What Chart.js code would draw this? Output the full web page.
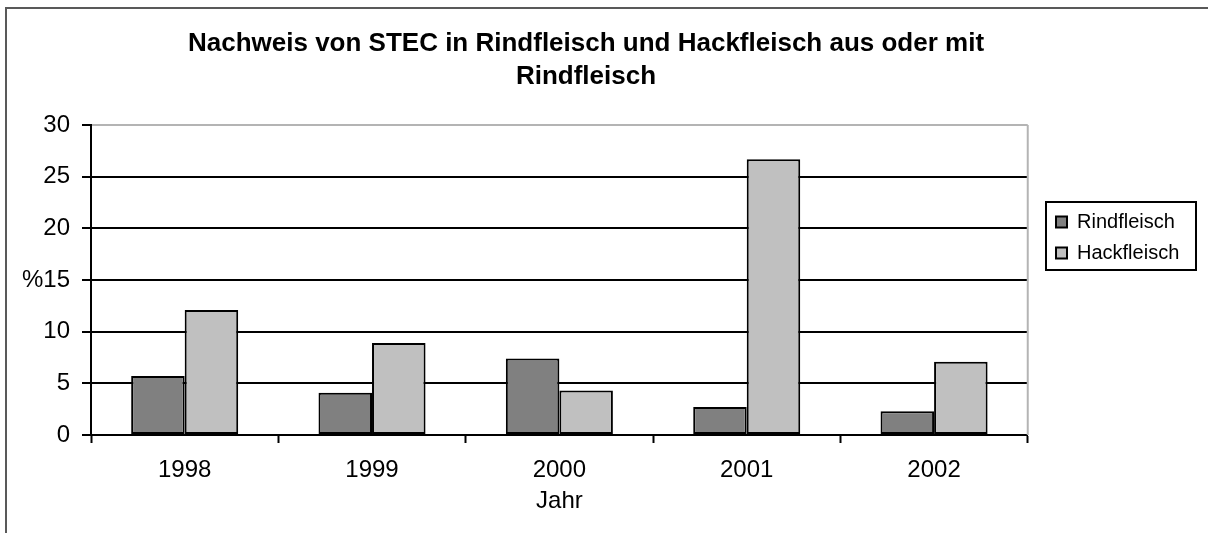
<!DOCTYPE html>
<html lang="de">
<head>
<meta charset="utf-8">
<title>Nachweis von STEC</title>
<script src="https://cdn.jsdelivr.net/npm/chart.js@4/dist/chart.umd.min.js"></script>
<style>
    html, body { margin: 0; padding: 0; background: #fff; }
    #quadro { position: relative; width: 1208px; height: 533px; overflow: hidden; }
    #moldura {
        position: absolute; left: 5px; top: 7px; right: 0; bottom: 0;
        border-left: 2px solid #595959; border-top: 2px solid #595959;
        pointer-events: none;
    }
</style>
</head>
<body>
<div id="quadro">
    <canvas id="grafico" width="1208" height="533"></canvas>
    <div id="moldura"></div>
</div>
<script>
// Anteil positiver Proben in %
const jahre       = ['1998', '1999', '2000', '2001', '2002']
const rindfleisch = [5.7, 4.1, 7.4, 2.7, 2.3]
const hackfleisch = [12.1, 8.9, 4.3, 26.7, 7.1]

const titel     = ['Nachweis von STEC in Rindfleisch und Hackfleisch aus oder mit', 'Rindfleisch']
const achseX    = 'Jahr'
const achseY    = '%'

const schrift   = "'Liberation Sans', Arial, sans-serif"
const TEXT      = 24
const Y_TICK    = 9
const Y_PAD     = 12

// legend sits in its own framed box beside the plot
const legendeBox = { left: 1045, top: 201, right: 1197, bottom: 300 }
const rahmenHoehe = 70

const rahmen = {
    id: 'rahmen',
    afterLayout(chart) {
        const lg = chart.legend
        lg.left = legendeBox.left
        lg.right = legendeBox.right
        lg.top = legendeBox.top
        lg.bottom = legendeBox.bottom
        lg.width = lg.right - lg.left
        lg.height = lg.bottom - lg.top
    },
    beforeDatasetsDraw(chart) {
        // grey border on the right side of the plot area
        const { ctx, chartArea } = chart
        ctx.save()
        ctx.strokeStyle = '#b4b4b4'
        ctx.lineWidth = 2
        ctx.beginPath()
        ctx.moveTo(chartArea.right, chartArea.top)
        ctx.lineTo(chartArea.right, chartArea.bottom)
        ctx.stroke()
        ctx.restore()
    },
    afterDraw(chart) {
        const { ctx } = chart
        const lg = chart.legend
        ctx.save()
        ctx.strokeStyle = '#000'
        ctx.lineWidth = 2
        ctx.strokeRect(lg.left + 1, lg.top + 1, lg.width - 2, rahmenHoehe - 2)

        // "%" written horizontally in front of the middle tick label
        const y = chart.scales.y
        ctx.font = TEXT + 'px ' + schrift
        ctx.fillStyle = '#000'
        ctx.textAlign = 'right'
        ctx.textBaseline = 'middle'
        const mitte = (y.min + y.max) / 2
        const x = y.right - Y_TICK - Y_PAD - ctx.measureText(String(mitte)).width
        ctx.fillText(achseY, x, y.getPixelForValue(mitte))
        ctx.restore()
    }
}

new Chart(document.getElementById('grafico'), {
    type: 'bar',
    data: {
        labels: jahre,
        datasets: [
            { label: 'Rindfleisch', data: rindfleisch, backgroundColor: '#808080', borderColor: '#000', borderWidth: 2, borderSkipped: false },
            { label: 'Hackfleisch', data: hackfleisch, backgroundColor: '#c0c0c0', borderColor: '#000', borderWidth: 2, borderSkipped: false }
        ]
    },
    options: {
        responsive: false,
        animation: false,
        devicePixelRatio: 1,
        categoryPercentage: 2 / 3.5,
        barPercentage: 1,
        layout: { padding: { left: 0, right: 36, top: 0, bottom: 0 } },
        plugins: {
            title: {
                display: true,
                text: titel,
                color: '#000',
                font: { family: schrift, size: 26, weight: 'bold', lineHeight: 1.27 },
                padding: { top: 27, bottom: 32 }
            },
            legend: {
                position: 'right',
                align: 'start',
                labels: {
                    color: '#000',
                    font: { family: schrift, size: 20 },
                    boxWidth: 11,
                    boxHeight: 11,
                    padding: 11
                }
            },
            tooltip: { enabled: false }
        },
        scales: {
            x: {
                afterFit(scale) { scale.height = 98 },
                grid: { drawOnChartArea: false, tickLength: 8, tickColor: '#000', tickWidth: 2 },
                border: { color: '#000', width: 2 },
                ticks: { color: '#000', padding: 13, font: { family: schrift, size: TEXT } },
                title: { display: true, text: achseX, color: '#000', padding: { top: 0, bottom: 17 }, font: { family: schrift, size: TEXT } }
            },
            y: {
                min: 0,
                max: 30,
                afterFit(scale) { scale.width = 91 },
                grid: {
                    color: (c) => c.tick && c.tick.value === 30 ? '#b4b4b4' : '#000',
                    lineWidth: 2,
                    tickLength: Y_TICK,
                    tickColor: '#000',
                    tickWidth: 2
                },
                border: { color: '#000', width: 2 },
                ticks: { stepSize: 5, color: '#000', padding: Y_PAD, font: { family: schrift, size: TEXT } }
            }
        }
    },
    plugins: [rahmen]
})
</script>
</body>
</html>
